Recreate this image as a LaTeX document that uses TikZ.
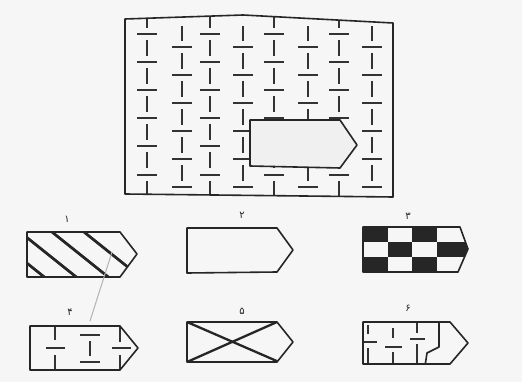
\documentclass[tikz,border=0pt]{standalone}
\usepackage{fontspec}
\newfontfamily\arabicfont[Script=Arabic]{DejaVu Sans}
\begin{document}
\begin{tikzpicture}[x=1pt,y=-1pt,
  outline/.style={line width=1.6pt, draw=black!85, line join=round},
  tmark/.style={line width=1.4pt, draw=black!80},
  num/.style={font=\arabicfont\fontsize{10}{10}\selectfont, text=black!85, inner sep=0pt},
  stripe/.style={line width=2.8pt, draw=black!85},
  pencil/.style={line width=1pt, draw=gray!60, line cap=round}]
\fill[gray!7] (0,0) rectangle (522,382);
\useasboundingbox (0,0) rectangle (522,382);

% ---- main sheet with T marks ----
\begin{scope}
\clip (125,19) -- (243,15) -- (393,23) -- (393,197) -- (125,194) -- cycle;
\foreach \x in {147,210,274,339} {
  \foreach \y in {34,62,90,118,146,175} \draw[tmark] (\x-10,\y) -- (\x+10,\y);
  \draw[tmark] (\x,10) -- (\x,28);
  \foreach \y in {34,62,90,118,146} \draw[tmark] (\x,\y+6) -- (\x,\y+22);
  \draw[tmark] (\x,181) -- (\x,200);
}
\foreach \x in {182,243,308,372} {
  \foreach \y in {47,75,103,131,159,187} \draw[tmark] (\x-10,\y) -- (\x+10,\y);
  \draw[tmark] (\x,26) -- (\x,41);
  \foreach \y in {47,75,103,131,159} \draw[tmark] (\x,\y+6) -- (\x,\y+22);
}
\end{scope}
\draw[outline] (125,19) -- (243,15) -- (393,23) -- (393,197) -- (125,194) -- cycle;
\filldraw[outline, fill=gray!12] (250,120) -- (340,120) -- (357,145) -- (340,168) -- (250,166) -- cycle;

% ---- option 1: stripes ----
\begin{scope}
\clip (27,232) -- (120,232) -- (137,254) -- (120,277) -- (27,277) -- cycle;
\foreach \x in {-12,20,52,84} \draw[stripe] (\x,232) -- ++(60,48);
\end{scope}
\draw[outline] (27,232) -- (120,232) -- (137,254) -- (120,277) -- (27,277) -- cycle;
\node[num] (n1) at (67,219) {١};

% ---- option 2: empty ----
\draw[outline] (187,228) -- (277,228) -- (293,250) -- (277,272) -- (187,273) -- cycle;
\node[num] (n2) at (242,215) {٢};

% ---- option 3: checkerboard ----
\begin{scope}
\clip (363,227) -- (460,227) -- (468,249) -- (458,272) -- (363,272) -- cycle;
\fill[black!85] (363,227) rectangle (388,242);
\fill[black!85] (412,227) rectangle (437,242);
\fill[black!85] (388,242) rectangle (412,257);
\fill[black!85] (437,242) rectangle (472,257);
\fill[black!85] (363,257) rectangle (388,272);
\fill[black!85] (412,257) rectangle (437,272);
\end{scope}
\draw[outline] (363,227) -- (460,227) -- (468,249) -- (458,272) -- (363,272) -- cycle;
\node[num] (n3) at (408,216) {٣};

% ---- option 4: correct pattern ----
\begin{scope}
\clip (30,326) -- (120,326) -- (138,348) -- (120,370) -- (30,370) -- cycle;
\draw[tmark] (55,326) -- (55,340);
\draw[tmark] (46,348) -- (65,348);
\draw[tmark] (55,355) -- (55,372);
\draw[tmark] (80,335) -- (100,335);
\draw[tmark] (90,341) -- (90,356);
\draw[tmark] (80,362) -- (100,362);
\draw[tmark] (120,326) -- (120,342);
\draw[tmark] (112,348) -- (131,348);
\draw[tmark] (120,355) -- (120,372);
\end{scope}
\draw[outline] (30,326) -- (120,326) -- (138,348) -- (120,370) -- (30,370) -- cycle;
\node[num] (n4) at (70,312) {۴};
\draw[pencil] (112,252) -- (90,321);

% ---- option 5: cross ----
\begin{scope}
\clip (187,322) -- (277,322) -- (293,342) -- (277,362) -- (187,362) -- cycle;
\draw[stripe, line width=2.3pt] (187,322) -- (279,362);
\draw[stripe, line width=2.3pt] (277,322) -- (187,362);
\end{scope}
\draw[outline] (187,322) -- (277,322) -- (293,342) -- (277,362) -- (187,362) -- cycle;
\node[num] (n5) at (242,311) {۵};

% ---- option 6: cut pattern ----
\begin{scope}
\clip (363,322) -- (450,322) -- (468,343) -- (450,364) -- (363,364) -- cycle;
\draw[tmark] (368,325) -- (368,334);
\draw[tmark] (363,342) -- (377,342);
\draw[tmark] (368,348) -- (368,366);
\draw[tmark] (393,328) -- (393,338);
\draw[tmark] (385,347) -- (402,347);
\draw[tmark] (393,352) -- (393,366);
\draw[tmark] (417,322) -- (417,333);
\draw[tmark] (410,339) -- (425,339);
\draw[tmark] (417,344) -- (417,366);
\draw[outline] (439,320) -- (439,347) -- (427,353) -- (425,366);
\end{scope}
\draw[outline] (363,322) -- (450,322) -- (468,343) -- (450,364) -- (363,364) -- cycle;
\node[num] (n6) at (408,308) {۶};
\end{tikzpicture}
\end{document}
